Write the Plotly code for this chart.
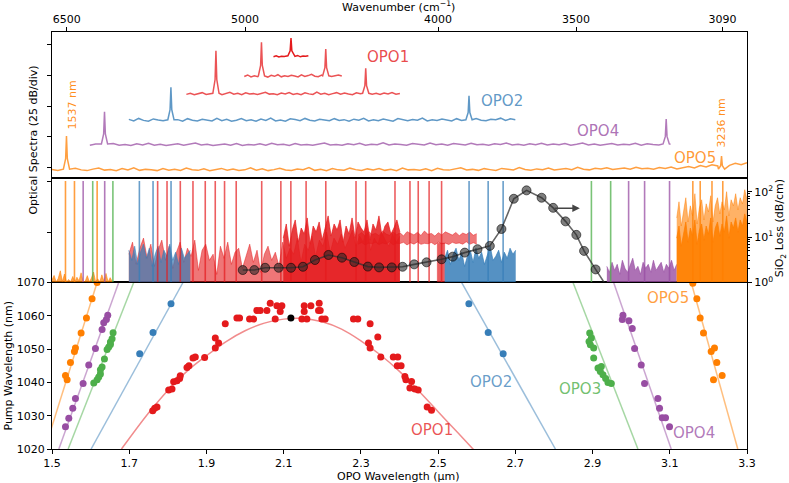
import plotly.graph_objects as go

# ------------------------------------------------------------------ data
RED, BLUE, GREEN, PURPLE, ORANGE = "#e41a1c", "#377eb8", "#4daf4a", "#984ea3", "#ff7f00"

wavenumber_ticks = [6500, 5000, 4000, 3500, 3090]
wl_ticks = [1.5, 1.7, 1.9, 2.1, 2.3, 2.5, 2.7, 2.9, 3.1, 3.3]
pump_ticks = [1020, 1030, 1040, 1050, 1060, 1070]
spec_ticks = [0, 25, 50, 75, 100]
mid_ticks = [0, 25, 50]

# ---- top panel: offset spectra (dB, 25 dB/div) ----
opo5_top_span = [1.5, 3.3]
opo5_top_base = -2.7
opo5_top_noise = [1.2,0.4,1.8,0.6,2.2,0.9,0.3,1.5,2.4,0.7,1.1,0.2,1.9,0.8,2.6,0.5,1.3,0.9,0.3,2.0,
                  0.6,1.4,0.4,2.3,1.0,0.5,1.7,0.2,1.2,2.1,0.7,1.5,0.4,0.9,2.5,0.6,1.8,0.3,1.1,2.2,
                  0.8,0.4,1.6,1.0,2.7,0.5,1.3,0.2,1.9,0.9,0.6,2.3,1.1,0.4,1.7,0.8,2.0,0.5,1.4,0.3,
                  2.4,0.9,1.2,0.6,1.8,0.3,2.2,1.0,0.7,1.5,2.6,0.8,1.3,0.5,1.9,1.1,0.4,2.1,1.6,0.9,
                  2.8,1.2,0.6,1.7,1.0,2.4,0.8,1.5,2.0,1.1,3.0,1.4,0.9,2.2,1.6,2.7,1.2,1.9,2.5,1.4,
                  3.1,1.8,2.3,1.5,2.9,2.0,3.3,1.7,2.6,3.6,2.4,4.4,3.2,5.0,4.1,5.8,4.6,6.2,5.1,6.8]
opo5_top_peak_x = [1.5375, 3.234]
opo5_top_peak_y = [25.8, 9.5]

opo4_top_span = [1.598, 3.102]
opo4_top_base = 17.8
opo4_top_noise = [0.5,1.4,0.3,0.9,1.8,0.4,1.1,0.2,1.6,0.7,2.0,0.5,1.2,0.3,0.8,1.7,0.4,1.0,2.2,0.6,
                  1.3,0.2,0.9,1.5,0.5,1.9,0.3,1.1,0.7,1.6,0.4,2.1,0.8,1.2,0.3,1.8,0.6,1.0,0.4,1.5,
                  2.3,0.7,1.1,0.5,1.7,0.9,2.0,0.4,1.3,0.8,2.4,0.6,1.5,1.0,0.5,1.9,1.2,0.7,2.2,0.9,
                  1.4,0.5,1.8,1.1,0.6,2.0,0.8,1.3,0.4,1.7,1.0,2.3,0.7,1.2,0.5,1.6,0.9,2.1,0.6,1.4,
                  0.8,1.9,0.5,1.2,2.2,0.7,1.5,0.4,1.0,1.8,0.6,1.3,0.9,2.0,0.5,1.6,1.1,0.7,1.9,1.2]
opo4_top_peak_x = [1.636, 3.0907]
opo4_top_peak_y = [45.6, 39.7]

opo2_top_span = [1.699, 2.700]
opo2_top_base = 37.5
opo2_top_noise = [1.8,0.5,2.6,1.0,0.4,2.2,1.3,0.7,2.9,0.9,1.6,0.3,2.4,1.1,0.6,2.0,1.4,0.5,2.7,0.8,
                  1.9,0.4,1.2,2.5,0.7,1.5,0.3,2.1,1.0,2.8,0.6,1.3,0.4,2.3,1.7,0.8,2.6,1.1,0.5,1.9,
                  1.4,0.7,2.4,0.9,1.6,0.3,2.0,1.2,2.7,0.6,1.5,0.8,2.2,1.0,0.4,2.5,1.3,0.7,1.8,1.1,
                  2.9,0.5,1.6,0.9,2.1,1.4,0.6,2.4,1.0,1.7,0.4,2.6,1.2,0.8,2.0,1.5,2.8,0.9,2.3,1.6]
opo2_top_peak_x = [1.808, 2.580]
opo2_top_peak_y = [65.5, 58.6]

opo1a_top_span = [1.848, 2.401]
opo1a_top_base = 59.1
opo1a_top_noise = [0.6,1.5,0.3,1.1,2.0,0.5,1.3,0.8,1.8,0.4,1.0,2.2,0.7,1.4,0.3,1.9,0.9,1.2,0.5,1.7,
                   2.3,0.8,1.1,0.4,1.6,0.9,2.1,0.6,1.3,0.3,1.8,1.0,0.5,2.4,0.8,1.5,0.4,1.2,2.0,0.7,
                   1.6,0.9,0.3,1.9,1.1,0.6,2.2,0.8,1.4,0.5,1.7,1.0,2.0,0.7,1.3]
opo1a_top_peak_x = [1.9246, 2.3125]
opo1a_top_peak_y = [95.3, 80.9]

opo1b_top_span = [1.998, 2.2505]
opo1b_top_base = 73.3
opo1b_top_noise = [1.0,2.2,0.6,1.5,0.8,2.6,1.2,0.5,1.9,1.1,2.4,0.7,1.6,0.9,2.0,1.3,0.6,2.3,1.0,1.7,
                   2.8,1.2,0.8,2.1,1.5,2.5,1.0,1.8,2.2,1.4]
opo1b_top_peak_x = [2.0425, 2.209]
opo1b_top_peak_y = [102.1, 96.6]

opo1c_top_span = [2.0736, 2.164]
opo1c_top_base = 89.6
opo1c_top_noise = [0.8,1.5,0.5,1.2,0.9,1.7,0.6,1.3,1.0,1.8,0.7,1.4,1.1,1.6]
opo1c_top_peak_x = [2.119]
opo1c_top_peak_y = [105.6]

# ---- middle panel: overlaid spectra (dB, 25 dB/div) ----
orange_left_span = [1.50, 1.656]
orange_left_noise = [1.2,3.5,0.3,2.0,5.8,0.5,4.2,0.2,1.5,0.4,3.0,0.3,2.6,0.8,4.8,0.3,0.6,3.4,0.2,2.2,
                     5.2,0.4,1.8,0.3,3.8,0.6,4.5,0.3,2.4,0.5]
red_light_span = [1.699, 2.401]
red_light_noise = [14,20,9,17,22,12,19,8,16,21,11,18,7,15,20,10,17,13,21,6,
                   16,19,11,14,4,18,12,20,9,15,17,7,13,19,10,16,5,14,18,11,
                   15,8,20,12,17,14,22,10,19,16,23,13,21,18,25,15,22,19,24,17,
                   21,26,18,23,20,27,16,22,19,25,21,18,24,20,23]
red_dark_span = [2.099, 2.401]
red_dark_noise = [22,29,18,26,31,20,27,24,32,19,28,25,30,21,27,33,23,29,26,31,
                  20,28,24,32,22,30,27,25,31,21,29,26,33,23,28,30,24,27,31,25]
red_band_span = [2.293, 2.600]
red_band_low = [19.0,19.8,18.6,19.5,19.2,20.0,18.8,19.6,19.1,20.2,18.7,19.4,19.3,19.9,18.6,19.7,19.0,20.1,18.9,19.4,
                19.2,19.8,18.7,20.0,19.1,19.5,18.8,19.9,19.3,19.6,19.0,20.2,18.9,19.7,19.1]
red_band_high = [23.5,24.8,22.9,25.3,23.8,24.4,23.2,25.6,24.0,23.4,25.0,23.7,24.6,23.1,25.2,24.2,23.6,24.9,23.3,25.5,
                 23.9,24.3,23.0,24.7,23.6,25.1,24.1,23.5,24.8,23.2,24.5,23.8,25.0,23.4,24.2]
red_bar_x = [2.498, 2.517]
red_bar_top = 19.5
blue_left_span = [1.699, 1.858]
blue_left_noise = [16,11,18,9,15,19,12,17,8,14,18,10,16,13,19,11,15,9,17,12,14,16]
blue_right_span = [2.517, 2.701]
blue_right_noise = [12,16,9,14,17,11,15,8,13,16,10,17,12,15,9,14,18,11,13,16,10,15,12,17,14,16]
purple_right_span = [2.937, 3.118]
purple_right_noise = [8,5,10,6,9,4,11,7,5,9,12,6,8,4,10,7,9,5,11,6,8,10,5,9,7,11,6,9]
orange_right_span = [3.118, 3.300]
orange_right_light = [32,40,28,36,42,30,38,33,44,29,37,41,31,39,35,43,30,38,42,34,40,36,45,33,41,38,44,36,42,39,46,41]
orange_right_dark = [22,28,18,25,30,20,27,23,31,19,26,29,21,28,24,32,20,27,30,23,29,25,33,22,30,27,32,25,31,28,34,30]

spike_top = 50.3
red_spikes = [1.7736,1.7979,1.8323,1.8651,1.8969,1.9228,1.9469,1.9771,2.0431,2.0927,2.1186,2.1581,
              2.2091,2.2874,2.3125,2.3883,2.4271,2.4485,2.4767,2.5090]
blue_spikes = [1.7263,1.7617,1.8083,2.5802,2.6296,2.6684]
green_spikes = [1.6055,1.6577,2.8970,2.9469]
purple_spikes = [1.5807,1.6365,2.9934,3.0348,3.0994]
orange_spikes = [1.5349,1.5582,1.6169,3.1597,3.1788,3.2093,3.2373]

# SiO2 loss (dB/cm, right log axis)
loss_wl = [1.994,2.024,2.052,2.087,2.119,2.150,2.181,2.216,2.251,2.283,2.318,2.347,2.380,2.408,2.438,
           2.470,2.509,2.538,2.569,2.602,2.634,2.664,2.696,2.729,2.768,2.798,2.830,2.858,2.878,2.908,2.938]
loss_db = [1.88,1.88,2.11,2.11,2.11,2.22,3.13,4.04,3.52,2.83,2.24,2.15,2.15,2.22,2.51,
           2.78,3.24,3.71,4.55,5.41,6.4,15.1,69.9,107,73.6,44.1,22.2,11.2,4.96,1.94,0.79]

# ---- bottom panel: tuning curves ----
opo1_x = [1.7608,1.7660,1.7720,1.8022,1.8108,1.8151,1.8237,1.8306,1.8323,1.8496,1.8547,1.8651,1.8711,1.8953,
          1.9229,1.9229,1.9315,1.9487,1.9789,1.9858,2.0117,2.0221,2.0307,2.0393,2.0566,2.0652,2.0781,2.0825,
          2.0954,2.0911,2.1472,2.1532,2.1532,2.1601,2.1705,2.1903,2.1920,2.1989,2.2076,2.1946,2.2808,2.2920,
          2.3239,2.3196,2.3239,2.3438,2.3515,2.3839,2.3955,2.3942,2.4042,2.4140,2.4166,2.4312,2.4269,2.4398,
          2.4484,2.4717,2.4829]
opo1_y = [1031.5,1032.2,1032.6,1037.7,1038.0,1040.2,1040.5,1041.2,1042.0,1044.5,1045.0,1047.3,1047.6,1047.5,
          1050.3,1053.3,1051.8,1057.6,1059.3,1059.3,1059.0,1059.0,1061.6,1061.6,1061.6,1063.8,1059.0,1063.0,
          1063.0,1061.3,1059.0,1063.0,1061.3,1059.0,1063.0,1061.6,1063.8,1059.0,1059.0,1061.6,1059.0,1059.0,
          1057.6,1051.8,1050.3,1053.6,1047.6,1047.6,1047.6,1045.0,1045.0,1041.8,1040.8,1040.3,1038.3,1038.0,
          1037.7,1032.6,1031.6]
opo2_x = [1.7271,1.7616,1.8082,2.5797,2.6297,2.6685]
opo2_y = [1048.6,1055.0,1063.6,1063.6,1055.0,1048.6]
opo3_x = [1.6082,1.6168,1.6211,1.6254,1.6254,1.6297,1.6358,1.6427,1.6470,1.6513,1.6556,1.6582,1.6513,
          2.8926,2.8969,2.8909,2.8943,2.9029,2.9029,2.9141,2.9227,2.9201,2.9270,2.9339,2.9399,2.9486]
opo3_y = [1039.8,1040.8,1041.6,1042.5,1043.8,1044.6,1047.0,1049.9,1050.6,1052.1,1053.1,1054.9,1051.4,
          1054.8,1053.3,1052.3,1051.3,1050.3,1047.3,1044.3,1044.8,1043.3,1042.3,1041.2,1040.0,1039.7]
opo4_x = [1.5349,1.5435,1.5538,1.5607,1.5806,1.5952,1.6125,1.6297,1.6340,1.6409,1.6444,
          2.9787,2.9770,2.9942,3.0028,3.0089,3.0261,3.0347,3.0692,3.0735,3.0804,3.0890,3.0994]
opo4_y = [1026.7,1029.2,1032.2,1035.2,1039.7,1045.2,1050.2,1055.9,1057.9,1058.9,1060.2,
          1060.2,1058.9,1058.5,1056.2,1050.2,1045.2,1039.7,1035.2,1032.2,1029.4,1029.4,1026.7]
opo5_x = [1.5349,1.5392,1.5478,1.5581,1.5607,1.5754,1.5892,1.6038,1.6168,
          3.1597,3.1701,3.1787,3.1873,3.2072,3.2158,3.2218,3.2356,3.2132]
opo5_y = [1042.1,1040.8,1046.0,1049.3,1050.3,1054.8,1059.3,1065.1,1070.0,
          1069.8,1065.1,1059.3,1054.8,1049.3,1050.3,1046.0,1042.1,1040.8]
degenerate_x = [2.1187]
degenerate_y = [1059.3]

fit1_x = [1.68,1.75,1.80,1.85,1.90,1.95,2.00,2.05,2.10,2.15,2.20,2.25,2.30,2.35,2.40,2.45,2.50,2.55,2.60]
fit1_y = [1020,1030.8,1037.6,1043.4,1048.0,1052.2,1055.5,1057.8,1059.0,1059.2,1058.2,1056.0,1052.5,1048.3,
          1043.3,1037.4,1031.2,1025.0,1018.8]
fit2_left = ([1.6013, 1.8392], [1020, 1070])
fit2_right = ([2.5607, 2.8038], [1070, 1020])
fit3_left = ([1.5418, 1.7116], [1020, 1070])
fit3_right = ([2.8494, 3.0175], [1070, 1020])
fit4_left = ([1.5177, 1.6728], [1020, 1070])
fit4_right = ([2.9546, 3.1037], [1070, 1020])
fit5_left = ([1.4815, 1.6168], [1020, 1070])
fit5_right = ([3.1555, 3.2761], [1070, 1020])

# ------------------------------------------------------------------ helpers
def rgba(h, a):
    h = h.lstrip("#")
    return "rgba(%d,%d,%d,%.2f)" % (int(h[0:2], 16), int(h[2:4], 16), int(h[4:6], 16), a)


def grid(span, n):
    return [span[0] + (span[1] - span[0]) * i / (n - 1) for i in range(n)]


def spectrum(span, base, noise, px, py, w=0.008):
    xs = grid(span, len(noise))
    pts = [(x, base + v) for x, v in zip(xs, noise) if all(abs(x - p) > w for p in px)]
    for p, t in zip(px, py):
        mid = base + 0.35 * (t - base)
        pts += [(p - w, base + 1.5), (p - 0.0022, mid), (p, t), (p + 0.0022, mid), (p + w, base + 1.5)]
    pts.sort()
    return [q[0] for q in pts], [q[1] for q in pts]


def spikes(xs, top):
    X, Y = [], []
    for x in xs:
        X += [x, x, None]
        Y += [0, top, None]
    return X, Y


fig = go.Figure()

# ---- top panel
top_specs = [
    (opo5_top_span, opo5_top_base, opo5_top_noise, opo5_top_peak_x, opo5_top_peak_y, rgba(ORANGE, 0.75)),
    (opo4_top_span, opo4_top_base, opo4_top_noise, opo4_top_peak_x, opo4_top_peak_y, rgba(PURPLE, 0.75)),
    (opo2_top_span, opo2_top_base, opo2_top_noise, opo2_top_peak_x, opo2_top_peak_y, rgba(BLUE, 0.8)),
    (opo1a_top_span, opo1a_top_base, opo1a_top_noise, opo1a_top_peak_x, opo1a_top_peak_y, rgba(RED, 0.75)),
    (opo1b_top_span, opo1b_top_base, opo1b_top_noise, opo1b_top_peak_x, opo1b_top_peak_y, rgba(RED, 0.75)),
    (opo1c_top_span, opo1c_top_base, opo1c_top_noise, opo1c_top_peak_x, opo1c_top_peak_y, rgba(RED, 1.0)),
]
for span, base, noise, px, py, col in top_specs:
    X, Y = spectrum(span, base, noise, px, py)
    fig.add_trace(go.Scatter(x=X, y=Y, mode="lines", line=dict(color=col, width=1.5),
                             xaxis="x3", yaxis="y3", showlegend=False, hoverinfo="skip"))

# ---- middle panel fills
def fill_trace(span, vals, col, a_fill, a_line=None):
    xs = grid(span, len(vals))
    fig.add_trace(go.Scatter(x=xs, y=vals, mode="lines", fill="tozeroy",
                             line=dict(color=rgba(col, a_line if a_line else a_fill), width=0.8),
                             fillcolor=rgba(col, a_fill), xaxis="x2", yaxis="y2",
                             showlegend=False, hoverinfo="skip"))

fill_trace(orange_left_span, orange_left_noise, ORANGE, 0.7)
fill_trace(red_light_span, red_light_noise, RED, 0.6)
fill_trace(blue_left_span, blue_left_noise, BLUE, 0.7)
fill_trace(red_dark_span, red_dark_noise, RED, 0.85)
# floating band
bx = grid(red_band_span, len(red_band_low))
fig.add_trace(go.Scatter(x=bx, y=red_band_low, mode="lines", line=dict(color=rgba(RED, 0.6), width=0.8),
                         xaxis="x2", yaxis="y2", showlegend=False, hoverinfo="skip"))
fig.add_trace(go.Scatter(x=bx, y=red_band_high, mode="lines", fill="tonexty",
                         line=dict(color=rgba(RED, 0.6), width=0.8), fillcolor=rgba(RED, 0.6),
                         xaxis="x2", yaxis="y2", showlegend=False, hoverinfo="skip"))
fig.add_trace(go.Scatter(x=[red_bar_x[0], red_bar_x[0], red_bar_x[1], red_bar_x[1]],
                         y=[0, red_bar_top, red_bar_top, 0], mode="lines", fill="toself",
                         line=dict(color=rgba(RED, 0.7), width=0.5), fillcolor=rgba(RED, 0.7),
                         xaxis="x2", yaxis="y2", showlegend=False, hoverinfo="skip"))
fill_trace(blue_right_span, blue_right_noise, BLUE, 0.85)
fill_trace(purple_right_span, purple_right_noise, PURPLE, 0.8)
fill_trace(orange_right_span, orange_right_light, ORANGE, 0.6)
fill_trace(orange_right_span, orange_right_dark, ORANGE, 0.9)

for xs, col, a in [(orange_spikes, ORANGE, 0.75), (purple_spikes, PURPLE, 0.75), (green_spikes, GREEN, 0.75),
                   (blue_spikes, BLUE, 0.75), (red_spikes, RED, 0.7)]:
    X, Y = spikes(xs, spike_top)
    fig.add_trace(go.Scatter(x=X, y=Y, mode="lines", line=dict(color=rgba(col, a), width=1.6),
                             xaxis="x2", yaxis="y2", showlegend=False, hoverinfo="skip"))

fig.add_trace(go.Scatter(x=loss_wl, y=loss_db, mode="lines+markers",
                         line=dict(color="rgba(50,50,50,0.75)", width=1.6),
                         marker=dict(size=9, color="rgba(40,40,40,0.6)", line=dict(color="rgba(0,0,0,0.7)", width=0.8)),
                         xaxis="x2", yaxis="y4", showlegend=False, hoverinfo="skip"))

# ---- bottom panel
for (fx, fy), col in [(fit5_left, ORANGE), (fit5_right, ORANGE), (fit4_left, PURPLE), (fit4_right, PURPLE),
                      (fit3_left, GREEN), (fit3_right, GREEN), (fit2_left, BLUE), (fit2_right, BLUE),
                      ((fit1_x, fit1_y), RED)]:
    fig.add_trace(go.Scatter(x=fx, y=fy, mode="lines", line=dict(color=rgba(col, 0.5), width=1.5, shape="spline"),
                             xaxis="x", yaxis="y", showlegend=False, hoverinfo="skip"))
for px, py, col in [(opo5_x, opo5_y, ORANGE), (opo4_x, opo4_y, PURPLE), (opo3_x, opo3_y, GREEN),
                    (opo2_x, opo2_y, BLUE), (opo1_x, opo1_y, RED), (degenerate_x, degenerate_y, "#000000")]:
    fig.add_trace(go.Scatter(x=px, y=py, mode="markers", marker=dict(size=7, color=col),
                             xaxis="x", yaxis="y", showlegend=False, hoverinfo="skip"))

# ------------------------------------------------------------------ layout
FONT = "DejaVu Sans"
ax_common = dict(showline=True, linecolor="black", linewidth=1, mirror=True, showgrid=False,
                 zeroline=False, ticks="outside", ticklen=4, tickcolor="black", automargin=False,
                 tickfont=dict(family=FONT, size=11, color="black"))

fig.update_layout(
    width=789, height=483, margin=dict(l=51.5, r=42, t=32, b=34, autoexpand=False),
    paper_bgcolor="white", plot_bgcolor="white", showlegend=False,
    font=dict(family=FONT, size=11, color="black"),
    xaxis=dict(domain=[0, 1], anchor="y", range=[1.5, 3.3], tickvals=wl_ticks,
               ticktext=["%.1f" % v for v in wl_ticks], **ax_common),
    xaxis2=dict(domain=[0, 1], anchor="y2", matches="x", showticklabels=False,
                **{**ax_common, "ticks": ""}),
    xaxis3=dict(domain=[0, 1], anchor="y3", matches="x", side="top",
                tickvals=[1e4 / w for w in wavenumber_ticks], ticktext=[str(w) for w in wavenumber_ticks],
                **ax_common),
    yaxis=dict(domain=[0, 0.3993], anchor="x", range=[1020, 1070], tickvals=pump_ticks, **ax_common),
    yaxis2=dict(domain=[0.3993, 0.6475], anchor="x2", range=[0, 51.3], tickvals=mid_ticks,
                showticklabels=False, **ax_common),
    yaxis4=dict(overlaying="y2", anchor="x2", side="right", type="log", range=[0, 2.28],
                tickvals=[1, 10, 100], ticktext=["10<sup>0</sup>", "10<sup>1</sup>", "10<sup>2</sup>"],
                minor=dict(ticks="outside", ticklen=2, tickcolor="black",
                           tickvals=[2, 3, 4, 5, 6, 7, 8, 9, 20, 30, 40, 50, 60, 70, 80, 90, 200]),
                **{**ax_common, "mirror": False}),
    yaxis3=dict(domain=[0.6523, 1], anchor="x3", range=[-7.6, 110.5], tickvals=spec_ticks,
                showticklabels=False, **ax_common),
)

ann = []
def label(text, x, y, xref, yref, col, size=15, angle=0):
    ann.append(dict(text=text, x=x, y=y, xref=xref, yref=yref, showarrow=False, textangle=angle,
                    font=dict(family=FONT, size=size, color=col), xanchor="center", yanchor="middle"))

# top panel labels
label("OPO1", 2.370, 90.1, "x3", "y3", rgba(RED, 0.8))
label("OPO2", 2.666, 54.3, "x3", "y3", rgba(BLUE, 0.8))
label("OPO4", 2.913, 29.9, "x3", "y3", rgba(PURPLE, 0.8))
label("OPO5", 3.165, 7.9, "x3", "y3", rgba(ORANGE, 0.8))
label("1537 nm", 1.553, 51.1, "x3", "y3", rgba(ORANGE, 0.9), size=11, angle=-90)
label("3236 nm", 3.234, 36.4, "x3", "y3", rgba(ORANGE, 0.9), size=11, angle=-90)
# bottom panel labels
label("OPO1", 2.4835, 1025.7, "x", "y", rgba(RED, 0.75))
label("OPO2", 2.6378, 1040.2, "x", "y", rgba(BLUE, 0.75))
label("OPO3", 2.868, 1038.0, "x", "y", rgba(GREEN, 0.8))
label("OPO4", 3.1615, 1024.9, "x", "y", rgba(PURPLE, 0.75))
label("OPO5", 3.0956, 1065.4, "x", "y", rgba(ORANGE, 0.75))
# axis titles
label("OPO Wavelength (μm)", 0.499, -0.066, "paper", "paper", "black", size=11)
label("Wavenumber (cm<sup>−1</sup>)", 0.499, 1.062, "paper", "paper", "black", size=11)
label("Optical Spectra (25 dB/div)", -0.028, 0.741, "paper", "paper", "black", size=11, angle=-90)
label("Pump Wavelength (nm)", -0.064, 0.199, "paper", "paper", "black", size=11, angle=-90)
label("SiO<sub>2</sub> Loss (dB/cm)", 1.048, 0.530, "paper", "paper", "black", size=11, angle=-90)

# loss-axis arrow
ann.append(dict(x=2.867, y=1.635, xref="x2", yref="y4", ax=2.7977, ay=1.635, axref="x2", ayref="y4",
                text="", showarrow=True, arrowhead=2, arrowsize=1, arrowwidth=1.5, arrowcolor="#444444"))

fig.update_layout(annotations=ann)
# remove the default 8 px page margin so the figure fills the window exactly; hide the mode bar
fig.write_html("out.html", config={"displayModeBar": False},
               post_script="document.body.style.margin='0';")
